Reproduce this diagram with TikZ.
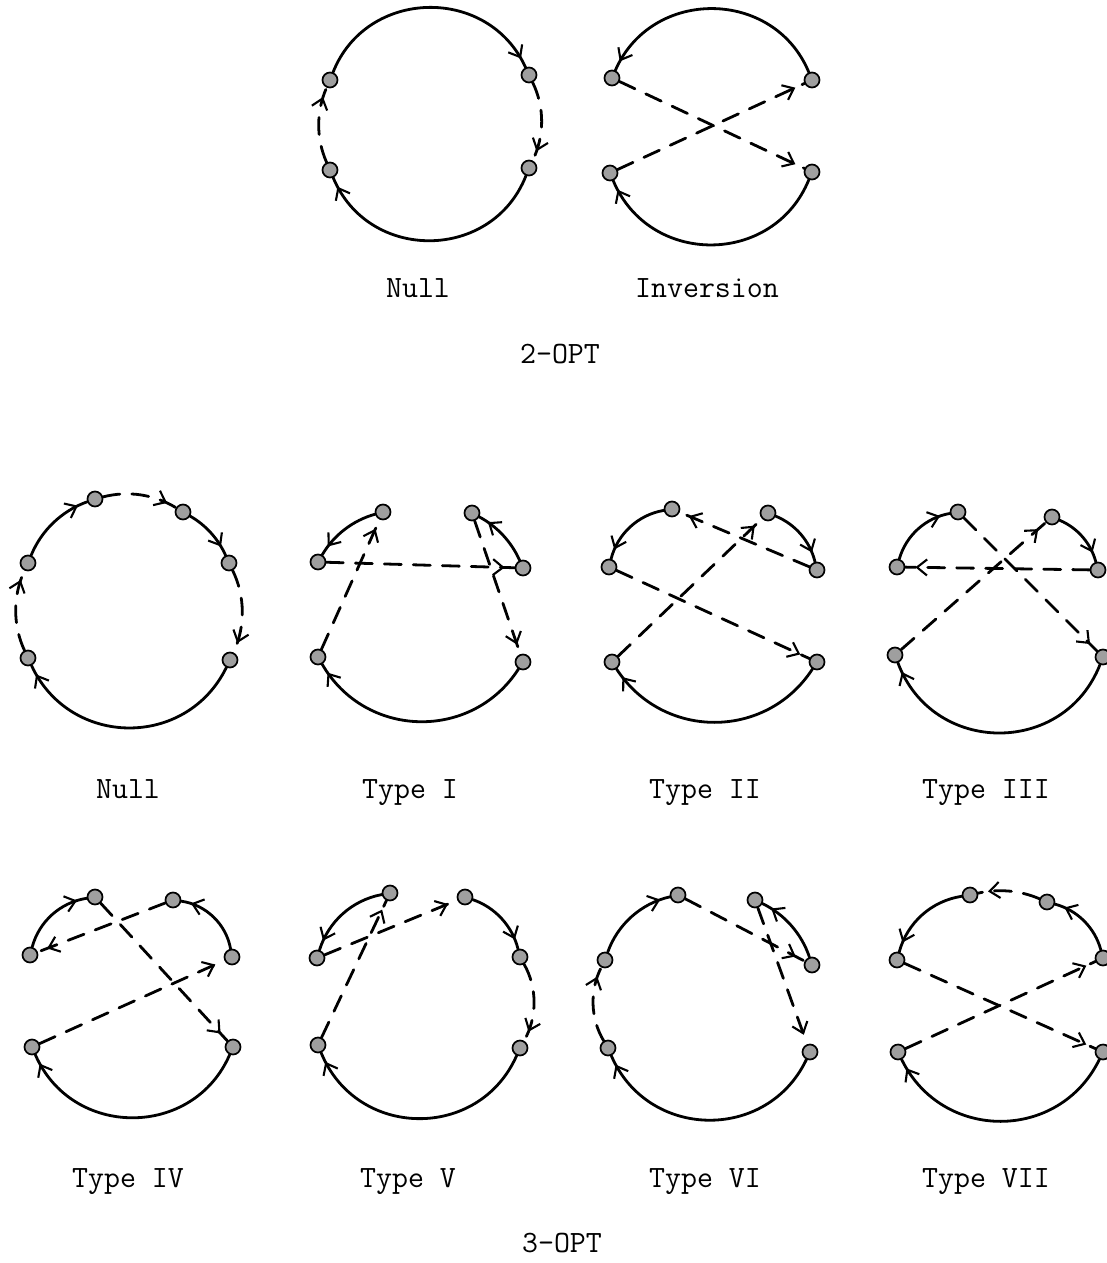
\documentclass[tikz,border=0pt]{standalone}
\usetikzlibrary{arrows.meta,decorations.markings}
\begin{document}
\begin{tikzpicture}[x=1pt,y=-1pt,
  vtx/.style={circle,draw=black,fill=gray!75,line width=1.7pt,minimum size=15pt,inner sep=0pt},
  edge/.style={line width=2.8pt,line cap=round},
  dsh/.style={edge,dash pattern=on 17pt off 12pt},
  arr/.style={postaction={decorate},decoration={markings,
     mark=at position -10pt with {\arrow{Straight Barb[length=10pt,width=16pt,line width=2.1pt]}}}},
  lbl/.style={anchor=base,font=\ttfamily\fontsize{31}{31}\selectfont}]
\useasboundingbox (0,0) rectangle (1106,1263);
% ---------------- 2-OPT Null
\node[vtx] (na1) at (330,80) {};
\node[vtx] (na2) at (529,75) {};
\node[vtx] (na3) at (529,168) {};
\node[vtx] (na4) at (330,170) {};
\draw[edge,arr] (na1) to[bend left=67,looseness=1.2] (na2);
\draw[dsh,arr] (na2) to[bend left=26,looseness=0.9] (na3);
\draw[edge,arr] (na3) to[bend left=68,looseness=1.22] (na4);
\draw[dsh,arr] (na4) to[bend left=24,looseness=0.89] (na1);
% ---------------- 2-OPT Inversion
\node[vtx] (iv1) at (612,78) {};
\node[vtx] (iv2) at (812,80) {};
\node[vtx] (iv3) at (812,172) {};
\node[vtx] (iv4) at (610,173) {};
\draw[edge,arr] (iv2) to[bend right=67,looseness=1.2] (iv1);
\draw[dsh,arr] (iv1) -- (iv3);
\draw[edge,arr] (iv3) to[bend left=67.5,looseness=1.22] (iv4);
\draw[dsh,arr] (iv4) -- (iv2);
% ---------------- 3-OPT Null
\node[vtx] (taA) at (95,499) {};
\node[vtx] (taB) at (183,512) {};
\node[vtx] (taC) at (229,563) {};
\node[vtx] (taD) at (230,660) {};
\node[vtx] (taE) at (28,658) {};
\node[vtx] (taF) at (28,563) {};
\draw[edge,arr] (taF) to[bend left=24,looseness=0.89] (taA);
\draw[dsh,arr] (taA) to[bend left=23,looseness=0.89] (taB);
\draw[edge,arr] (taB) to[bend left=18,looseness=0.87] (taC);
\draw[dsh,arr] (taC) to[bend left=25.5,looseness=0.89] (taD);
\draw[edge,arr] (taD) to[bend left=64.5,looseness=1.19] (taE);
\draw[dsh,arr] (taE) to[bend left=25,looseness=0.89] (taF);
% ---------------- Type I
\node[vtx] (tba) at (383,512) {};
\node[vtx] (tbb) at (318,562) {};
\node[vtx] (tbc) at (472,513) {};
\node[vtx] (tbd) at (523,568) {};
\node[vtx] (tbe) at (523,662) {};
\node[vtx] (tbf) at (318,657) {};
\draw[edge,arr] (tba) to[bend right=22,looseness=0.88] (tbb);
\draw[dsh,arr] (tbb) -- (tbd);
\draw[edge,arr] (tbd) to[bend right=19,looseness=0.87] (tbc);
\draw[dsh,arr] (tbc) -- (tbe);
\draw[edge,arr] (tbe) to[bend left=58.6,looseness=1.12] (tbf);
\draw[dsh,arr] (tbf) -- (tba);
% ---------------- Type II
\node[vtx] (tca) at (672,509) {};
\node[vtx] (tcb) at (609,567) {};
\node[vtx] (tcc) at (768,513) {};
\node[vtx] (tcd) at (817,570) {};
\node[vtx] (tce) at (817,662) {};
\node[vtx] (tcf) at (612,662) {};
\draw[edge,arr] (tca) to[bend right=33,looseness=0.93] (tcb);
\draw[dsh,arr] (tcb) -- (tce);
\draw[edge,arr] (tce) to[bend left=57,looseness=1.11] (tcf);
\draw[dsh,arr] (tcf) -- (tcc);
\draw[edge,arr] (tcc) to[bend left=27,looseness=0.9] (tcd);
\draw[dsh,arr] (tcd) -- (tca);
% ---------------- Type III
\node[vtx] (tda) at (958,512) {};
\node[vtx] (tdb) at (897,567) {};
\node[vtx] (tdc) at (1052,517) {};
\node[vtx] (tdd) at (1098,570) {};
\node[vtx] (tde) at (1103,657) {};
\node[vtx] (tdf) at (895,655) {};
\draw[edge,arr] (tdb) to[bend left=32,looseness=0.92] (tda);
\draw[dsh,arr] (tda) -- (tde);
\draw[edge,arr] (tde) to[bend left=69,looseness=1.25] (tdf);
\draw[dsh,arr] (tdf) -- (tdc);
\draw[edge,arr] (tdc) to[bend left=26,looseness=0.9] (tdd);
\draw[dsh,arr] (tdd) -- (tdb);
% ---------------- Type IV
\node[vtx] (tea) at (95,897) {};
\node[vtx] (teb) at (30,955) {};
\node[vtx] (tec) at (173,900) {};
\node[vtx] (ted) at (232,957) {};
\node[vtx] (tee) at (233,1047) {};
\node[vtx] (tef) at (32,1047) {};
\draw[edge,arr] (teb) to[bend left=33,looseness=0.93] (tea);
\draw[dsh,arr] (tea) -- (tee);
\draw[edge,arr] (tee) to[bend left=66.6,looseness=1.21] (tef);
\draw[dsh,arr] (tef) -- (ted);
\draw[edge,arr] (ted) to[bend right=36,looseness=0.93] (tec);
\draw[dsh,arr] (tec) -- (teb);
% ---------------- Type V
\node[vtx] (tfa) at (390,893) {};
\node[vtx] (tfb) at (317,958) {};
\node[vtx] (tfc) at (465,897) {};
\node[vtx] (tfd) at (520,957) {};
\node[vtx] (tfe) at (520,1048) {};
\node[vtx] (tff) at (318,1045) {};
\draw[edge,arr] (tfa) to[bend right=31,looseness=0.92] (tfb);
\draw[dsh,arr] (tfb) -- (tfc);
\draw[edge,arr] (tfc) to[bend left=28.6,looseness=0.9] (tfd);
\draw[dsh,arr] (tfd) to[bend left=29.6,looseness=0.9] (tfe);
\draw[edge,arr] (tfe) to[bend left=67,looseness=1.22] (tff);
\draw[dsh,arr] (tff) -- (tfa);
% ---------------- Type VI
\node[vtx] (tga) at (678,895) {};
\node[vtx] (tgb) at (605,960) {};
\node[vtx] (tgc) at (755,900) {};
\node[vtx] (tgd) at (812,965) {};
\node[vtx] (tge) at (810,1052) {};
\node[vtx] (tgf) at (608,1048) {};
\draw[edge,arr] (tgb) to[bend left=29,looseness=0.9] (tga);
\draw[dsh,arr] (tga) -- (tgd);
\draw[edge,arr] (tgd) to[bend right=23,looseness=0.88] (tgc);
\draw[dsh,arr] (tgc) -- (tge);
\draw[edge,arr] (tge) to[bend left=65.6,looseness=1.2] (tgf);
\draw[dsh,arr] (tgf) to[bend left=29,looseness=0.9] (tgb);
% ---------------- Type VII
\node[vtx] (tha) at (970,895) {};
\node[vtx] (thb) at (897,960) {};
\node[vtx] (thc) at (1047,902) {};
\node[vtx] (thd) at (1103,958) {};
\node[vtx] (the) at (1103,1052) {};
\node[vtx] (thf) at (898,1052) {};
\draw[edge,arr] (tha) to[bend right=33,looseness=0.93] (thb);
\draw[dsh,arr] (thb) -- (the);
\draw[edge,arr] (the) to[bend left=64,looseness=1.19] (thf);
\draw[dsh,arr] (thf) -- (thd);
\draw[edge,arr] (thd) to[bend right=30,looseness=0.91] (thc);
\draw[dsh,arr] (thc) to[bend right=18,looseness=0.87] (tha);
% ---------------- labels
\node[lbl] (l1) at (418,297) {Null};
\node[lbl] (l2) at (707,297) {Inversion};
\node[lbl] (l3) at (560,363) {2-OPT};
\node[lbl] (l4) at (128,798) {Null};
\node[lbl] (l5) at (410,798) {Type I};
\node[lbl] (l6) at (705,798) {Type II};
\node[lbl] (l7) at (986,798) {Type III};
\node[lbl] (l8) at (128,1187) {Type IV};
\node[lbl] (l9) at (408,1187) {Type V};
\node[lbl] (l10) at (705,1187) {Type VI};
\node[lbl] (l11) at (986,1187) {Type VII};
\node[lbl] (l12) at (562,1252) {3-OPT};
\end{tikzpicture}
\end{document}
